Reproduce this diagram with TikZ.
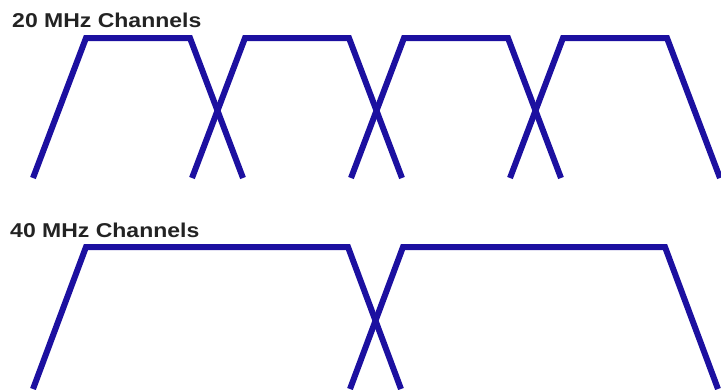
\documentclass[tikz,border=0pt]{standalone}
\usepackage{fontspec}
\setmainfont{Liberation Sans}
\definecolor{chanblue}{RGB}{28,16,160}
\definecolor{lbltext}{RGB}{35,35,35}
\tikzset{
  chan/.style={draw=chanblue, line width=6pt, line join=miter},
  title/.style={anchor=base west, inner sep=0pt, text=lbltext,
    font=\bfseries\fontsize{20}{20}\selectfont, xscale=1.15}
}
\begin{document}
\begin{tikzpicture}[x=1pt, y=-1pt]
\useasboundingbox (0,0) rectangle (721,389);

% 20 MHz row
\node (lbl20) [title] at (12,27) {20 MHz Channels};
\foreach \i in {0,...,3}
  \draw [chan] ({33+159*\i},178) -- ({86+159*\i},38)
    -- ({190+159*\i},38) -- ({243+159*\i},178);

% 40 MHz row
\node (lbl40) [title] at (10,237) {40 MHz Channels};
\foreach \i in {0,1}
  \draw [chan] ({33+317*\i},389) -- ({86+317*\i},247)
    -- ({348+317*\i},247) -- ({401+317*\i},389);

\end{tikzpicture}
\end{document}
